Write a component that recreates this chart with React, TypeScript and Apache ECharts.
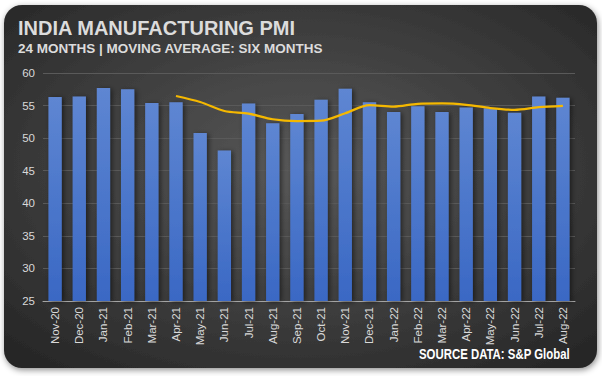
import React, { useEffect, useRef } from "react";
import * as echarts from "echarts";

const categories = [
  "Nov-20", "Dec-20", "Jan-21", "Feb-21", "Mar-21", "Apr-21", "May-21", "Jun-21",
  "Jul-21", "Aug-21", "Sep-21", "Oct-21", "Nov-21", "Dec-21", "Jan-22", "Feb-22",
  "Mar-22", "Apr-22", "May-22", "Jun-22", "Jul-22", "Aug-22",
];
const pmiValues = [
  56.3, 56.4, 57.7, 57.5, 55.4, 55.5, 50.8, 48.1,
  55.3, 52.3, 53.7, 55.9, 57.6, 55.5, 54.0, 54.9,
  54.0, 54.7, 54.6, 53.9, 56.4, 56.2,
];
const movingAvg: (number | null)[] = [
  null, null, null, null, null, 56.47, 55.55, 54.17,
  53.77, 52.9, 52.62, 52.68, 53.82, 55.05, 54.83, 55.27,
  55.32, 55.12, 54.62, 54.35, 54.75, 54.97,
];
const yTicks = { min: 25, max: 60, interval: 5 };

export default function App() {
  const ref = useRef<HTMLDivElement>(null);
  useEffect(() => {
    if (!ref.current) return;
    const chart = echarts.init(ref.current, null, { renderer: "svg" });
    chart.setOption({
      animation: false,
      backgroundColor: "#ffffff",
      graphic: [
        {
          type: "rect",
          z: -10,
          silent: true,
          shape: { x: 4, y: 5, width: 593, height: 363, r: 18 },
          style: {
            fill: {
              type: "radial",
              x: 0.5,
              y: 0.45,
              r: 0.75,
              colorStops: [
                { offset: 0, color: "#595959" },
                { offset: 1, color: "#232323" },
              ],
            },
            shadowBlur: 6,
            shadowColor: "rgba(0,0,0,0.45)",
            shadowOffsetX: 1,
            shadowOffsetY: 2,
          },
        },
        {
          type: "text",
          left: 18,
          top: 18,
          style: {
            text: "INDIA MANUFACTURING PMI",
            fill: "#dcdcdc",
            font: "bold 20px 'Liberation Sans', Arial, sans-serif",
          },
        },
        {
          type: "text",
          left: 18,
          top: 41,
          style: {
            text: "24 MONTHS | MOVING AVERAGE: SIX MONTHS",
            fill: "#dcdcdc",
            font: "bold 13.5px 'Liberation Sans', Arial, sans-serif",
          },
        },
        {
          type: "text",
          x: 419,
          y: 346,
          scaleX: 0.76,
          originX: 0,
          originY: 0,
          style: {
            text: "SOURCE DATA: S&P Global",
            fill: "#ffffff",
            verticalAlign: "top",
            font: "bold 15px 'Liberation Sans', Arial, sans-serif",
          },
        },
      ],
      grid: { left: 43, right: 27, top: 73, bottom: 75 },
      xAxis: {
        type: "category",
        data: categories,
        axisLine: { lineStyle: { color: "#a6a6a6", width: 1 } },
        axisTick: { show: false },
        axisLabel: {
          rotate: 90,
          color: "#d9d9d9",
          fontSize: 11.5,
          fontFamily: "'Liberation Sans', Arial, sans-serif",
          margin: 6,
        },
      },
      yAxis: {
        type: "value",
        min: yTicks.min,
        max: yTicks.max,
        interval: yTicks.interval,
        axisLine: { show: false },
        axisTick: { show: false },
        axisLabel: {
          color: "#d9d9d9",
          fontSize: 11.5,
          fontFamily: "'Liberation Sans', Arial, sans-serif",
          margin: 8,
        },
        splitLine: { lineStyle: { color: "#5a5a5a", width: 1 } },
      },
      series: [
        {
          type: "bar",
          data: pmiValues,
          barWidth: "55%",
          itemStyle: {
            color: {
              type: "linear",
              x: 0, y: 0, x2: 0, y2: 1,
              colorStops: [
                { offset: 0, color: "#5e86d2" },
                { offset: 1, color: "#3a68c4" },
              ],
            },
            shadowBlur: 5,
            shadowColor: "rgba(0,0,0,0.5)",
            shadowOffsetX: 2,
            shadowOffsetY: 1,
          },
        },
        {
          type: "line",
          data: movingAvg,
          smooth: 0.3,
          showSymbol: false,
          symbol: "none",
          lineStyle: { color: "#f5b800", width: 2.25 },
          z: 5,
        },
      ],
    });
    return () => chart.dispose();
  }, []);
  return (
    <div
      ref={ref}
      style={{ position: "fixed", left: 0, top: 0, width: 602, height: 376 }}
    />
  );
}
